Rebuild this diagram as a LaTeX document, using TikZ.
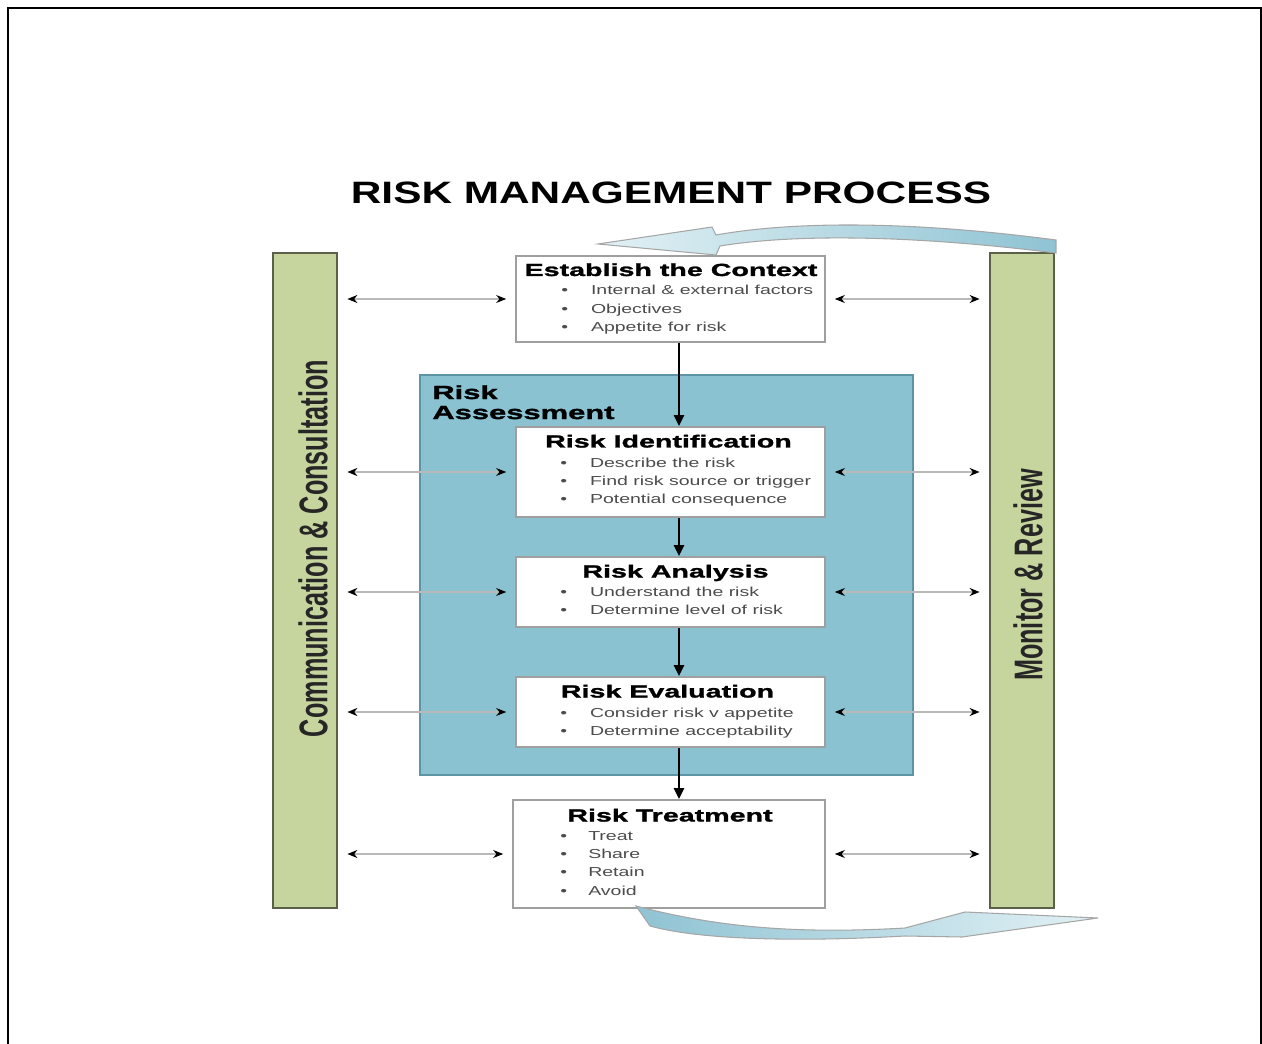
\documentclass[tikz,border=0pt]{standalone}
\usepackage{fontspec}
\setmainfont{Liberation Sans}
\newfontfamily\titlefont[FakeStretch=1.37]{Liberation Sans}
\newfontfamily\headfont[FakeStretch=1.63,FakeBold=1.5]{Liberation Sans}
\newfontfamily\listfont[FakeStretch=1.5]{Liberation Sans}
\newfontfamily\sidefont[FakeStretch=0.63]{Liberation Sans}
\usepackage{tikz}
\usetikzlibrary{arrows.meta,calc}
\definecolor{barc}{HTML}{C6D59E}
\definecolor{bardk}{HTML}{5B6148}
\definecolor{assessc}{HTML}{8AC2D2}
\definecolor{assessdk}{HTML}{5E95A6}
\definecolor{ribbonc}{HTML}{8FC3D3}
\definecolor{ribbonlt}{HTML}{E2F1F5}
\tikzset{
  sidebar/.style={draw=bardk,line width=1.6pt,fill=barc,minimum width=1.28cm,minimum height=13.1cm,inner sep=0pt},
  sidetxt/.style={rotate=90,font=\sidefont\bfseries\fontsize{22.8}{24}\selectfont,text=black!85,inner sep=0pt},
  assessbox/.style={draw=assessdk,line width=1.2pt,fill=assessc,minimum width=9.86cm,minimum height=8cm,inner sep=0pt},
  procbox/.style={draw=gray!75,line width=1pt,fill=white,minimum width=6.18cm,inner sep=0pt},
  head/.style={font=\headfont\bfseries\fontsize{10}{12}\selectfont,inner sep=0pt,anchor=base},
  items/.style={font=\listfont\fontsize{7.4}{10.5}\selectfont,text=black!70,inner sep=0pt,anchor=base west},
  flow/.style={-{Triangle[length=2.2mm,width=2mm]},line width=1.3pt,black},
  dbl/.style={{Stealth[length=2mm,width=1.6mm,color=black]}-{Stealth[length=2mm,width=1.6mm,color=black]},gray!55,line width=0.8pt,shorten <=0.18cm,shorten >=0.18cm},
  ribbon/.style={draw=gray!70,line width=0.6pt}
}
\newcommand{\bul}{\textbullet}
\begin{document}
\begin{tikzpicture}[x=0.02cm,y=-0.02cm]
\useasboundingbox (0,0) rectangle (1262,1044);
\draw[line width=1.7pt] (8,1100) -- (8,8) -- (1261,8) -- (1261,1100);

\node[font=\titlefont\bfseries\fontsize{17.6}{20}\selectfont,anchor=base,inner sep=0pt] (title) at (671,204) {RISK MANAGEMENT PROCESS};

% side bars
\node[sidebar] (comm) at (305,580.5) {};
\node[sidebar] (monit) at (1022,580.5) {};
\node[sidetxt] (commt) at (313,548.5) {Communication \& Consultation};
\node[sidetxt] (monitt) at (1028,575) {Monitor \& Review};

% assessment block
\node[assessbox] (assess) at (666.5,575) {};
\node[font=\headfont\bfseries\fontsize{10.8}{11.4}\selectfont,inner sep=0pt,anchor=base west] (assesst) at (432,399)
  {\begin{tabular}[t]{@{}l@{}}Risk\\Assessment\end{tabular}};

% process steps
\node[procbox,minimum height=1.72cm] (ctx) at (670.5,299) {};
\node[procbox,minimum height=1.8cm] (ident) at (670.5,472) {};
\node[procbox,minimum height=1.4cm] (anal) at (670.5,592) {};
\node[procbox,minimum height=1.4cm] (evalu) at (670.5,712) {};
\node[procbox,minimum width=6.24cm,minimum height=2.16cm] (treat) at (669,854) {};

\node[head] (ctxh) at (671,276) {Establish the Context};
\node[head] (identh) at (668.5,447.5) {Risk Identification};
\node[head] (analh) at (675.5,577.5) {Risk Analysis};
\node[head] (evaluh) at (667.5,697.5) {Risk Evaluation};
\node[head] (treath) at (670,821.5) {Risk Treatment};

\node[items] (ctxl) at (561,295) {\begin{tabular}[t]{@{}l@{\hspace{13pt}}l@{}}
  \bul & Internal \& external factors\\ \bul & Objectives\\ \bul & Appetite for risk\end{tabular}};
\node[items] (identl) at (560,467) {\begin{tabular}[t]{@{}l@{\hspace{13pt}}l@{}}
  \bul & Describe the risk\\ \bul & Find risk source or trigger\\ \bul & Potential consequence\end{tabular}};
\node[items] (anall) at (560,596) {\begin{tabular}[t]{@{}l@{\hspace{13pt}}l@{}}
  \bul & Understand the risk\\ \bul & Determine level of risk\end{tabular}};
\node[items] (evalul) at (560,717) {\begin{tabular}[t]{@{}l@{\hspace{13pt}}l@{}}
  \bul & Consider risk v appetite\\ \bul & Determine acceptability\end{tabular}};
\node[items] (treatl) at (560,840) {\begin{tabular}[t]{@{}l@{\hspace{12pt}}l@{}}
  \bul & Treat\\ \bul & Share\\ \bul & Retain\\ \bul & Avoid\end{tabular}};

% step to step
\foreach \a/\b in {ctx/ident,ident/anal,anal/evalu,evalu/treat}
  \draw[flow] ([xshift=0.17cm]\a.south) -- ([xshift=0.17cm]\a.south |- \b.north);

% links to the side bars
\foreach \b in {ctx,ident,anal,evalu,treat}{
  \draw[dbl] (comm.east |- \b.west) -- (\b.west);
  \draw[dbl] (\b.east) -- (monit.west |- \b.east);
}

% curved return arrows
\draw[ribbon,left color=ribbonlt,right color=ribbonc]
  (598,244) -- (712,227) -- (716,235) .. controls (800,220) and (920,222) .. (1056,240)
  -- (1056,253) .. controls (920,236) and (800,233) .. (720,246) -- (716,255) -- cycle;
\draw[ribbon,left color=ribbonc,right color=ribbonlt]
  (636,906) .. controls (720,928) and (800,934) .. (905,928) -- (965,912) -- (1098,918)
  -- (962,937) -- (905,936) .. controls (800,942) and (700,940) .. (650,926) -- cycle;
\end{tikzpicture}
\end{document}
